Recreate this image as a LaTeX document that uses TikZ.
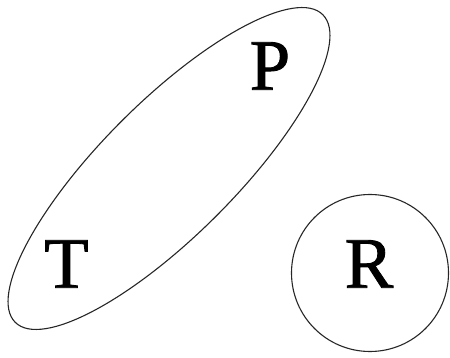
\documentclass[tikz,border=0pt]{standalone}
\usepackage{fontspec}
\setmainfont{Liberation Serif}
\newfontfamily\lettfont[FakeBold=1.2]{Liberation Serif}
\usetikzlibrary{shapes.geometric}
\begin{document}
\begin{tikzpicture}[x=1pt,y=1pt,
  outline/.style={draw=black!85,line width=1.1pt,inner sep=0pt},
  letter/.style={inner sep=0pt,font=\lettfont\fontsize{72.5}{80}\selectfont}]
\useasboundingbox (0,0) rectangle (450,358);
\node[outline,ellipse,minimum width=435pt,minimum height=134pt,rotate=45] (E) at (169,189.5) {};
\node[outline,circle,minimum size=157pt] (C) at (370,85) {};
\node[letter] (P) at (270,292) {P};
\node[letter] (T) at (66.5,94) {T};
\node[letter] (R) at (369,94) {R};
\end{tikzpicture}
\end{document}
